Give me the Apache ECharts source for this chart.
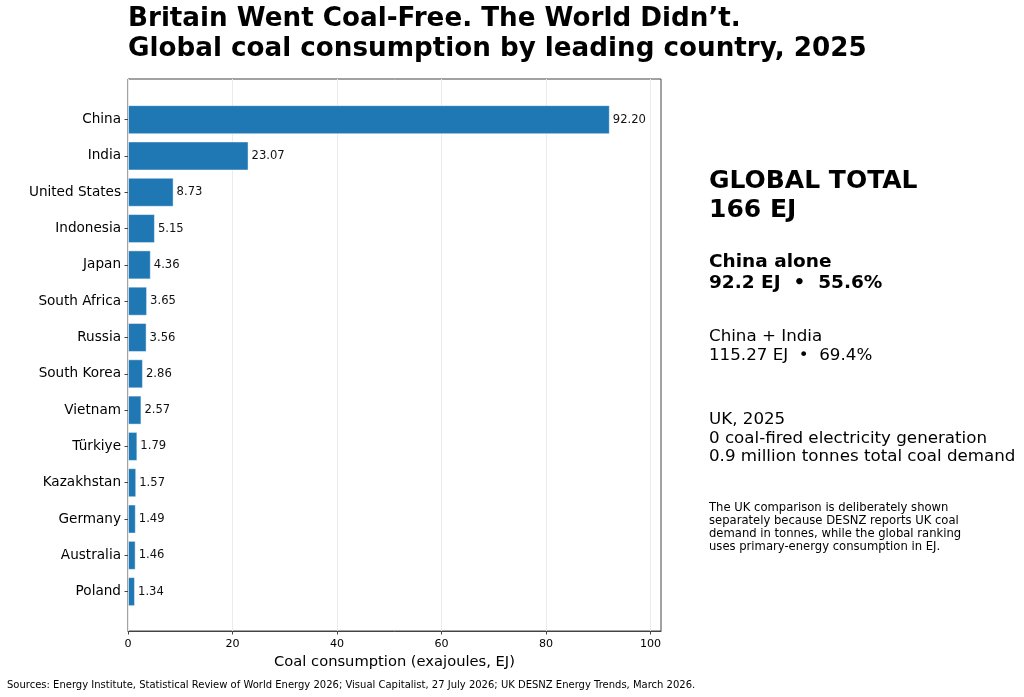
<!DOCTYPE html>
<html>
<head>
<meta charset="utf-8">
<script src="https://cdn.jsdelivr.net/npm/echarts@6/dist/echarts.min.js"></script>
<style>
  html, body { margin: 0; padding: 0; background: #fff; }
  #chart { width: 1024px; height: 697px; }
</style>
</head>
<body>
<div id="chart"></div>
<script>
// Data
const countries = ['China', 'India', 'United States', 'Indonesia', 'Japan', 'South Africa', 'Russia',
    'South Korea', 'Vietnam', 'Türkiye', 'Kazakhstan', 'Germany', 'Australia', 'Poland'];
const consumptionEJ = [92.20, 23.07, 8.73, 5.15, 4.36, 3.65, 3.56, 2.86, 2.57, 1.79, 1.57, 1.49, 1.46, 1.34];
const xTicks = [0, 20, 40, 60, 80, 100];

const font = 'DejaVu Sans';
const chart = echarts.init(document.getElementById('chart'));

// helper for the free text around the chart
function txt(x, y, text, size, weight) {
    return {
        type: 'text',
        style: {
            x: x, y: y, text: text,
            fontFamily: font, fontSize: size, fontWeight: weight || 'normal',
            fill: '#000', verticalAlign: 'middle'
        }
    };
}

const option = {
    animation: false,
    grid: [
        // frame + x axis
        { left: 128, right: 363, top: 79, bottom: 66, show: true, borderColor: '#444', borderWidth: 1, backgroundColor: 'transparent' },
        // bars (category bands of ~36.3px, matching the padded frame)
        { left: 128, right: 363, top: 101.5, bottom: 87.2 }
    ],
    xAxis: [
        {
            gridIndex: 0, type: 'value', min: 0, max: 102,
            name: 'Coal consumption (exajoules, EJ)', nameLocation: 'middle', nameGap: 23,
            nameTextStyle: { fontFamily: font, fontSize: 14.7, color: '#000' },
            axisLine: { show: true, lineStyle: { color: '#444', width: 1 } },
            axisTick: { show: true, length: 3.5, lineStyle: { color: '#444' }, customValues: xTicks },
            axisLabel: { fontFamily: font, fontSize: 11.1, color: '#000', margin: 8, customValues: xTicks },
            splitLine: { show: true, lineStyle: { color: '#ebebeb', width: 1 } }
        },
        { gridIndex: 1, type: 'value', min: 0, max: 102, show: false }
    ],
    yAxis: [
        { gridIndex: 0, type: 'value', min: 0, max: 1, show: false },
        {
            gridIndex: 1, type: 'category', data: countries, inverse: true,
            axisLine: { show: false },
            axisTick: { show: true, alignWithLabel: true, length: 3.5, lineStyle: { color: '#444' } },
            axisLabel: { fontFamily: font, fontSize: 13.6, color: '#000', margin: 7 },
            splitLine: { show: false }
        }
    ],
    series: [{
        type: 'bar',
        xAxisIndex: 1, yAxisIndex: 1,
        data: consumptionEJ,
        barWidth: 29,
        itemStyle: { color: '#1f77b4', borderColor: 'rgba(255,255,255,0.45)', borderWidth: 1 },
        label: {
            show: true, position: 'right', distance: 3,
            fontFamily: font, fontSize: 11.6, color: '#111',
            formatter: p => p.value.toFixed(2)
        }
    }],
    graphic: [
        txt(128, 19, 'Britain Went Coal-Free. The World Didn’t.', 26.2, 'bold'),
        txt(128, 49, 'Global coal consumption by leading country, 2025', 26.2, 'bold'),

        txt(709, 181, 'GLOBAL TOTAL', 25, 'bold'),
        txt(709, 210, '166 EJ', 25, 'bold'),
        txt(709, 262, 'China alone', 18.5, 'bold'),
        txt(709, 283, '92.2 EJ  •  55.6%', 18.5, 'bold'),
        txt(709, 337, 'China + India', 16.7),
        txt(709, 356, '115.27 EJ  •  69.4%', 16.7),
        txt(709, 420, 'UK, 2025', 16.7),
        txt(709, 439, '0 coal-fired electricity generation', 16.7),
        txt(709, 457, '0.9 million tonnes total coal demand', 16.7),
        txt(709, 508, 'The UK comparison is deliberately shown', 11.6),
        txt(709, 521, 'separately because DESNZ reports UK coal', 11.6),
        txt(709, 534, 'demand in tonnes, while the global ranking', 11.6),
        txt(709, 547, 'uses primary-energy consumption in EJ.', 11.6),

        txt(7, 685, 'Sources: Energy Institute, Statistical Review of World Energy 2026; Visual Capitalist, 27 July 2026; UK DESNZ Energy Trends, March 2026.', 10)
    ]
};

chart.setOption(option);
</script>
</body>
</html>
